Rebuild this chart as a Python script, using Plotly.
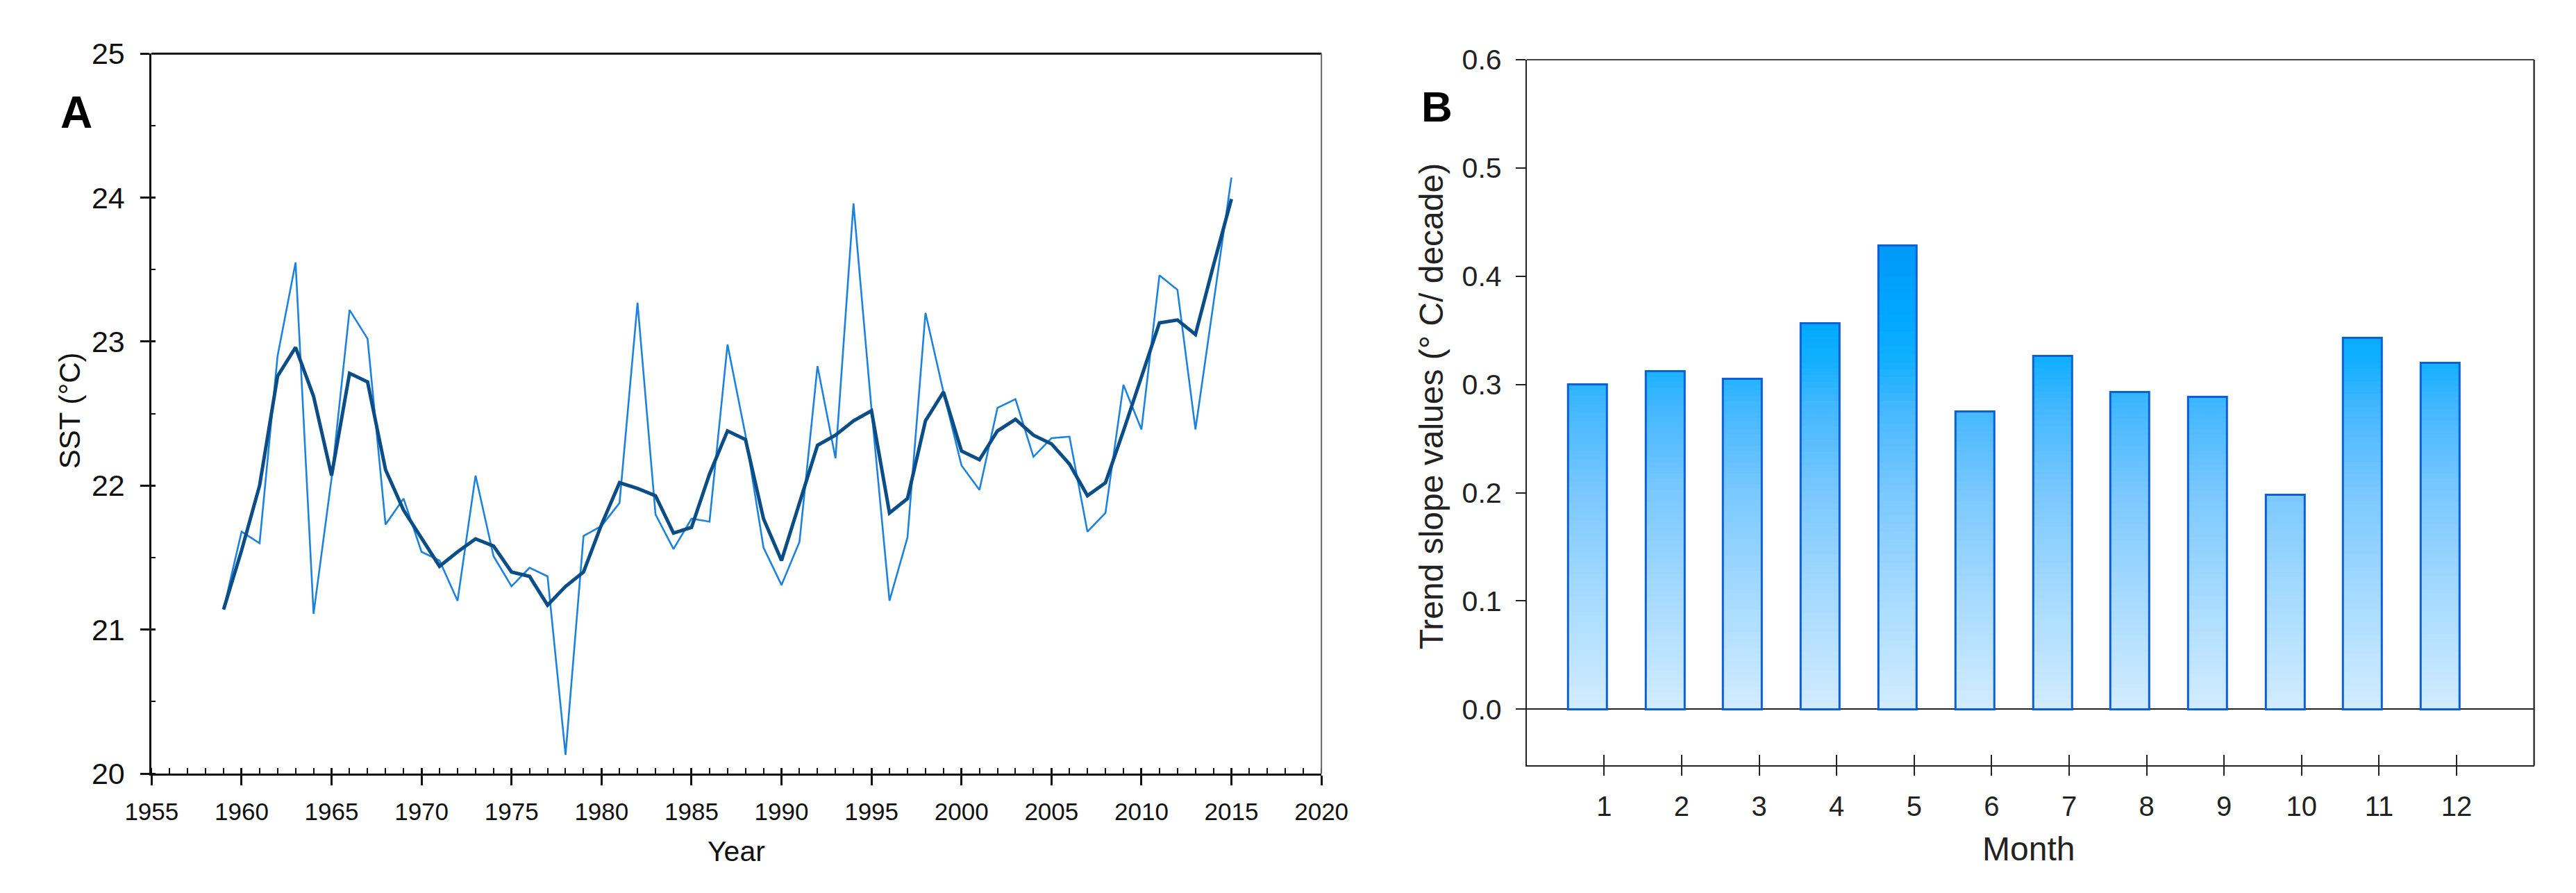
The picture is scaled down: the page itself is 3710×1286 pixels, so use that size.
import plotly.graph_objects as go

# ---------------- data ----------------
years = [1959, 1960, 1961, 1962, 1963, 1964, 1965, 1966, 1967, 1968, 1969,
         1970, 1971, 1972, 1973, 1974, 1975, 1976, 1977, 1978, 1979,
         1980, 1981, 1982, 1983, 1984, 1985, 1986, 1987, 1988, 1989,
         1990, 1991, 1992, 1993, 1994, 1995, 1996, 1997, 1998, 1999,
         2000, 2001, 2002, 2003, 2004, 2005, 2006, 2007, 2008, 2009,
         2010, 2011, 2012, 2013, 2014, 2015]
sst_annual = [21.14, 21.68, 21.60, 22.90, 23.55, 21.11, 22.05, 23.22, 23.02, 21.73, 21.91,
              21.54, 21.48, 21.20, 22.07, 21.51, 21.30, 21.43, 21.37, 20.13, 21.65,
              21.72, 21.88, 23.27, 21.80, 21.56, 21.77, 21.75, 22.98, 22.35, 21.57,
              21.31, 21.61, 22.83, 22.19, 23.96, 22.53, 21.20, 21.64, 23.20, 22.65,
              22.14, 21.97, 22.54, 22.60, 22.20, 22.33, 22.34, 21.68, 21.81, 22.70,
              22.39, 23.46, 23.36, 22.39, 23.27, 24.14]
sst_smooth = [21.14, 21.55, 22.00, 22.76, 22.96, 22.62, 22.07, 22.78, 22.72, 22.11, 21.83,
              21.63, 21.44, 21.54, 21.63, 21.58, 21.40, 21.37, 21.17, 21.30, 21.40,
              21.73, 22.02, 21.98, 21.93, 21.67, 21.71, 22.08, 22.38, 22.32, 21.77,
              21.48, 21.88, 22.28, 22.35, 22.45, 22.52, 21.81, 21.91, 22.45, 22.65,
              22.24, 22.18, 22.38, 22.46, 22.35, 22.29, 22.15, 21.93, 22.02, 22.38,
              22.75, 23.13, 23.15, 23.05, 23.53, 23.99]

months = [1, 2, 3, 4, 5, 6, 7, 8, 9, 10, 11, 12]
trend_slope = [0.300, 0.312, 0.305, 0.356, 0.428, 0.275, 0.326, 0.293, 0.288, 0.198, 0.343, 0.320]

year_ticks = [1955, 1960, 1965, 1970, 1975, 1980, 1985, 1990, 1995, 2000, 2005, 2010, 2015, 2020]
sst_ticks = [20, 21, 22, 23, 24, 25]
slope_ticks = [0.0, 0.1, 0.2, 0.3, 0.4, 0.5, 0.6]

# ---------------- styling helpers ----------------
W, H = 3710, 1286
FONT_A = "Liberation Sans, Arial, sans-serif"
FONT_B = "Liberation Sans, Arial, sans-serif"

def px_x(p):
    return p / W

def px_y(p):
    return 1 - p / H

# gradient colour as a function of absolute bar height value
grad_stops = [(0.00, (210, 236, 255)), (0.10, (168, 219, 255)), (0.20, (122, 200, 255)),
              (0.28, (66, 183, 255)), (0.32, (20, 176, 255)), (0.36, (0, 168, 255)),
              (0.45, (0, 148, 245))]

def grad_color(v):
    if v <= grad_stops[0][0]:
        c = grad_stops[0][1]
    elif v >= grad_stops[-1][0]:
        c = grad_stops[-1][1]
    else:
        for (a, ca), (b, cb) in zip(grad_stops[:-1], grad_stops[1:]):
            if a <= v <= b:
                t = (v - a) / (b - a)
                c = tuple(ca[i] + (cb[i] - ca[i]) * t for i in range(3))
                break
    return "rgb(%d,%d,%d)" % tuple(int(round(x)) for x in c)

fig = go.Figure()

# ---------------- panel A ----------------
fig.add_trace(go.Scatter(x=years, y=sst_annual, mode="lines",
                         line=dict(color="#1c82dc", width=2.6),
                         xaxis="x", yaxis="y", showlegend=False, hoverinfo="skip"))
fig.add_trace(go.Scatter(x=years, y=sst_smooth, mode="lines",
                         line=dict(color="#0b4d86", width=5),
                         xaxis="x", yaxis="y", showlegend=False, hoverinfo="skip"))
# invisible anchors for overlay tick axes
fig.add_trace(go.Scatter(x=[years[0]], y=[sst_annual[0]], mode="markers",
                         marker=dict(opacity=0), xaxis="x3", yaxis="y", showlegend=False, hoverinfo="skip"))
fig.add_trace(go.Scatter(x=[years[0]], y=[sst_annual[0]], mode="markers",
                         marker=dict(opacity=0), xaxis="x", yaxis="y3", showlegend=False, hoverinfo="skip"))

# ---------------- panel B ----------------
N = 60
bar_w = 0.5
bar_off = -0.46
for k in range(N):
    base = [v * k / N for v in trend_slope]
    hgt = [v / N + (0.0015 if k < N - 1 else 0) for v in trend_slope]
    cols = [grad_color(v * (k + 0.5) / N) for v in trend_slope]
    fig.add_trace(go.Bar(x=months, y=hgt, base=base, width=bar_w, offset=bar_off,
                         marker=dict(color=cols, line=dict(width=0)),
                         xaxis="x2", yaxis="y2", showlegend=False, hoverinfo="skip"))
fig.add_trace(go.Bar(x=months, y=trend_slope, width=bar_w, offset=bar_off,
                     marker=dict(color="rgba(0,0,0,0)", line=dict(color="#0a60d6", width=3)),
                     xaxis="x2", yaxis="y2", showlegend=False, hoverinfo="skip"))
fig.add_trace(go.Scatter(x=[months[0]], y=[0], mode="markers", marker=dict(opacity=0),
                         xaxis="x4", yaxis="y2", showlegend=False, hoverinfo="skip"))

# domains
xa_dom = [px_x(175), px_x(1896)]
ya_dom = [px_y(1124), px_y(47)]
xb_dom = [px_x(2198), px_x(3680)]
yb_dom = [px_y(1112), px_y(56)]

fig.update_layout(
    width=W, height=H, margin=dict(l=0, r=0, t=0, b=0),
    paper_bgcolor="white", plot_bgcolor="white", barmode="overlay", bargap=0,
    showlegend=False,
    xaxis=dict(domain=xa_dom, anchor="y", range=[1955, 2020], tickvals=year_ticks,
               ticks="outside", ticklen=14, tickwidth=3, tickcolor="#111",
               minor=dict(dtick=1, tick0=1955, ticks="inside", ticklen=8, tickwidth=2, tickcolor="#111"),
               tickfont=dict(family=FONT_A, size=35, color="#111"), ticklabelstandoff=8,
               showline=True, linecolor="#111", linewidth=3, mirror=False,
               showgrid=False, zeroline=False),
    xaxis3=dict(overlaying="x", anchor="y", range=[1955, 2020], tickvals=year_ticks,
                ticks="inside", ticklen=8, tickwidth=3, tickcolor="#111",
                showticklabels=False, showline=False, showgrid=False, zeroline=False),
    yaxis=dict(domain=ya_dom, anchor="x", range=[20, 25], tickvals=sst_ticks,
               ticks="outside", ticklen=13, tickwidth=3, tickcolor="#111",
               minor=dict(dtick=0.5, tick0=20, ticks="inside", ticklen=6, tickwidth=2, tickcolor="#111"),
               tickfont=dict(family=FONT_A, size=43, color="#111"), ticklabelstandoff=14,
               showline=True, linecolor="#111", linewidth=3, mirror=False,
               showgrid=False, zeroline=False),
    yaxis3=dict(overlaying="y", anchor="x", range=[20, 25], tickvals=sst_ticks,
                ticks="inside", ticklen=6, tickwidth=3, tickcolor="#111",
                showticklabels=False, showline=False, showgrid=False, zeroline=False),
    xaxis2=dict(domain=xb_dom, anchor="y2", range=[0, 13], tickvals=months,
                ticks="outside", ticklen=13, tickwidth=2, tickcolor="#222",
                tickfont=dict(family=FONT_B, size=40, color="#222"), ticklabelstandoff=10,
                showline=True, linecolor="#222", linewidth=2, mirror=False,
                showgrid=False, zeroline=False),
    xaxis4=dict(overlaying="x2", anchor="y2", range=[0, 13], tickvals=months,
                ticks="inside", ticklen=15, tickwidth=2, tickcolor="#222",
                showticklabels=False, showline=False, showgrid=False, zeroline=False),
    yaxis2=dict(domain=yb_dom, anchor="x2", range=[-0.052, 0.6], tickvals=slope_ticks,
                tickformat=".1f", ticks="outside", ticklen=14, tickwidth=2, tickcolor="#222",
                tickfont=dict(family=FONT_B, size=41, color="#222"), ticklabelstandoff=12,
                showline=True, linecolor="#222", linewidth=2, mirror=False,
                showgrid=False, zeroline=True, zerolinecolor="#222", zerolinewidth=2),
)

# frame lines (top/right) as in the reference
frame = [
    # panel A: thick black top, grey right
    dict(x0=xa_dom[0], x1=xa_dom[1], y0=ya_dom[1], y1=ya_dom[1], color="#111", w=3),
    dict(x0=xa_dom[1], x1=xa_dom[1], y0=ya_dom[0], y1=ya_dom[1], color="#666", w=2),
    # panel B: grey top, dark right
    dict(x0=xb_dom[0], x1=xb_dom[1], y0=yb_dom[1], y1=yb_dom[1], color="#444", w=2),
    dict(x0=xb_dom[1], x1=xb_dom[1], y0=yb_dom[0], y1=yb_dom[1], color="#333", w=2.5),
]
for f in frame:
    fig.add_shape(type="line", xref="paper", yref="paper", x0=f["x0"], x1=f["x1"],
                  y0=f["y0"], y1=f["y1"], line=dict(color=f["color"], width=f["w"]))

ann = [
    dict(text="<b>A</b>", x=px_x(64), y=px_y(135), font=dict(family=FONT_A, size=64, color="black")),
    dict(text="<b>B</b>", x=px_x(2066), y=px_y(126), font=dict(family=FONT_B, size=62, color="black")),
    dict(text="Year", x=px_x(1035), y=px_y(1240), font=dict(family=FONT_A, size=41, color="#111")),
    dict(text="SST (°C)", x=px_x(54), y=px_y(581), textangle=-90,
         font=dict(family=FONT_A, size=42, color="#111")),
    dict(text="Month", x=px_x(2936), y=px_y(1237), font=dict(family=FONT_B, size=48, color="#222")),
    dict(text="Trend slope values (° C/ decade)", x=px_x(2058), y=px_y(575), textangle=-90,
         font=dict(family=FONT_B, size=48, color="#222")),
]
for a in ann:
    fig.add_annotation(xref="paper", yref="paper", showarrow=False,
                       xanchor="center", yanchor="middle", **a)

fig.write_html("out.html")
